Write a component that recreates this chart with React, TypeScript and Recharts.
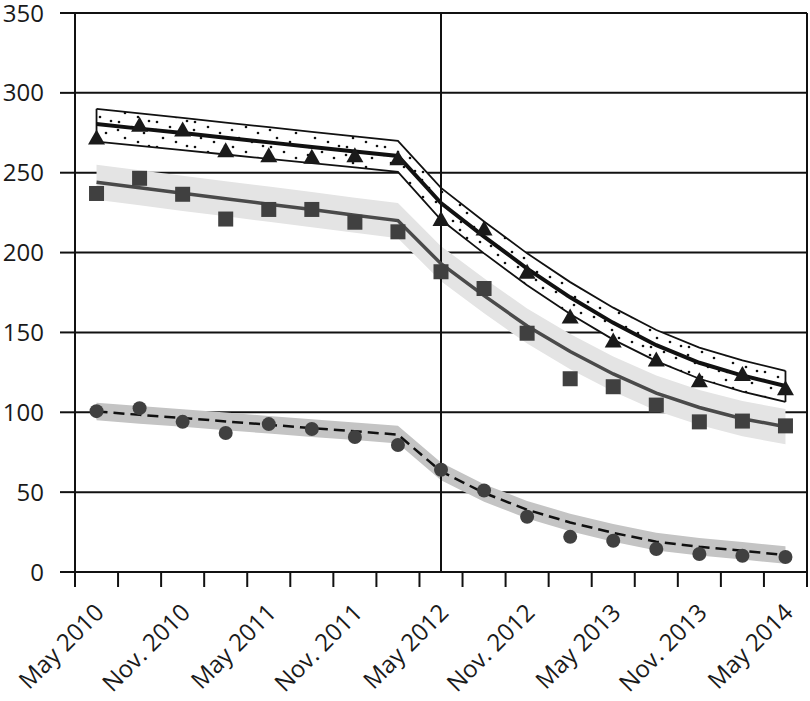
import React from "react";
import {
  ComposedChart,
  Line,
  Area,
  Scatter,
  XAxis,
  YAxis,
  CartesianGrid,
  ReferenceLine,
} from "recharts";

// Quarterly periods (labels shown every 6 months)
const periods = [
  "May 2010", "Aug. 2010", "Nov. 2010", "Feb. 2011", "May 2011", "Aug. 2011",
  "Nov. 2011", "Feb. 2012", "May 2012", "Aug. 2012", "Nov. 2012", "Feb. 2013",
  "May 2013", "Aug. 2013", "Nov. 2013", "Feb. 2014", "May 2014",
];

const yTicks = [0, 50, 100, 150, 200, 250, 300, 350];

// Triangles series
const triPoints = [272, 280, 277, 264, 261, 260, 261, 259, 221, 215, 188, 160, 145, 133, 120, 124, 115];
const triFit = [280.5, 277.6, 274.8, 271.9, 269, 266.1, 263.3, 260.5, 231, 210, 190, 172, 156, 142, 131, 123, 116.5];
const triHi = [290, 287.1, 284.3, 281.4, 278.5, 275.6, 272.8, 270, 240.5, 219.5, 199.5, 181.5, 165.5, 151.5, 140.5, 132.5, 126];
const triLo = [269.5, 266.8, 264.1, 261.4, 258.7, 256, 253.3, 250.5, 220.5, 199.5, 179.5, 161.5, 145.5, 132, 121, 113, 106.5];

// Squares series
const sqPoints = [237, 246.5, 236.5, 221, 227, 227, 219, 213, 188, 177.5, 149.5, 121, 116, 104.5, 94, 94.5, 91.5];
const sqFit = [244, 240.6, 237.1, 233.7, 230.3, 226.9, 223.4, 220, 193, 173, 154, 138, 124, 112, 103, 96, 91];
const sqHalfWidth = [11, 11, 11, 11, 11, 11, 11, 11, 11, 11, 11, 11, 11, 11, 11, 11, 11];

// Circles series
const ciPoints = [100.7, 102.6, 94, 87, 92.6, 89.5, 84.5, 79.5, 64, 51, 34.6, 22, 19.6, 14.4, 11.3, 10.2, 9.4];
const ciFit = [100.5, 98.4, 96.4, 94.3, 92.2, 90.1, 88.1, 86, 63, 49.5, 39, 31, 24.5, 19, 15.8, 13.3, 10.6];
const ciHalfWidth = [5.5, 5.5, 5.5, 5.5, 5.5, 5.5, 5.5, 5.5, 5.5, 5.5, 5.5, 5.5, 5.5, 5.5, 5.5, 5.5, 5.5];

const data = periods.map((p, i) => ({
  period: p,
  x: i + 0.5,
  tri: triPoints[i],
  triFit: triFit[i],
  triBand: [triLo[i], triHi[i]],
  sq: sqPoints[i],
  sqFit: sqFit[i],
  sqBand: [sqFit[i] - sqHalfWidth[i], sqFit[i] + sqHalfWidth[i]],
  ci: ciPoints[i],
  ciFit: ciFit[i],
  ciBand: [ciFit[i] - ciHalfWidth[i], ciFit[i] + ciHalfWidth[i]],
}));

const xTicks = Array.from({ length: periods.length + 1 }, (_, i) => i);
const markerIndex = 8; // May 2012

const FONT = "'Open Sans', 'DejaVu Sans', sans-serif";

const XTick = (props: any) => {
  const { x, y, payload, width } = props;
  const v = payload.value as number;
  if (v % 2 !== 0 || v >= periods.length) return null;
  const band = width / periods.length;
  const ax = x + band / 2 + 9;
  const ay = y + 25;
  return (
    <text
      x={ax}
      y={ay}
      transform={`rotate(-45, ${ax}, ${ay})`}
      textAnchor="end"
      fontFamily={FONT}
      fontSize={24}
      fill="#1a1a1a"
    >
      {periods[v]}
    </text>
  );
};

const Triangle = (props: any) => {
  const { cx, cy } = props;
  if (cx == null || cy == null) return null;
  return (
    <path
      d={`M${cx},${cy - 8} L${cx + 8.5},${cy + 7} L${cx - 8.5},${cy + 7} Z`}
      fill="#1a1a1a"
    />
  );
};

const Square = (props: any) => {
  const { cx, cy } = props;
  if (cx == null || cy == null) return null;
  return <rect x={cx - 7.5} y={cy - 7.5} width={15} height={15} fill="#404040" />;
};

const Dot = (props: any) => {
  const { cx, cy } = props;
  if (cx == null || cy == null) return null;
  return <circle cx={cx} cy={cy} r={7} fill="#404040" />;
};

export default function App() {
  const last = periods.length - 1;
  return (
    <div style={{ position: "absolute", left: 0, top: 0 }}>
      <ComposedChart
        width={810}
        height={701}
        data={data}
        margin={{ top: 13, right: 3, bottom: 0, left: 0 }}
      >
        <defs>
          <pattern id="stipple" width="38" height="25" patternUnits="userSpaceOnUse">
            <rect width="38" height="25" fill="#ffffff" />
            <circle cx="4" cy="5" r="1.3" fill="#111" />
            <circle cx="18" cy="2" r="1.3" fill="#111" />
            <circle cx="30" cy="8" r="1.3" fill="#111" />
            <circle cx="11" cy="13" r="1.3" fill="#111" />
            <circle cx="24" cy="17" r="1.3" fill="#111" />
            <circle cx="35" cy="21" r="1.3" fill="#111" />
            <circle cx="5" cy="22" r="1.3" fill="#111" />
          </pattern>
        </defs>
        <CartesianGrid vertical={false} stroke="#111" strokeWidth={2} />
        <XAxis
          type="number"
          dataKey="x"
          domain={[0, periods.length]}
          ticks={xTicks}
          interval={0}
          height={129}
          tickSize={15}
          axisLine={{ stroke: "#111", strokeWidth: 2 }}
          tickLine={{ stroke: "#111", strokeWidth: 2 }}
          tick={<XTick />}
        />
        <YAxis
          type="number"
          domain={[0, 350]}
          ticks={yTicks}
          width={75}
          tickSize={15}
          tickMargin={16}
          axisLine={{ stroke: "#111", strokeWidth: 2 }}
          tickLine={{ stroke: "#111", strokeWidth: 2 }}
          tick={{ fontFamily: FONT, fontSize: 24, fill: "#1a1a1a" }}
        />
        <Area
          dataKey="sqBand"
          stroke="none"
          fill="#e4e4e4"
          fillOpacity={1}
          isAnimationActive={false}
          activeDot={false}
        />
        <Area
          dataKey="ciBand"
          stroke="none"
          fill="#c4c4c4"
          fillOpacity={1}
          isAnimationActive={false}
          activeDot={false}
        />
        <Area
          dataKey="triBand"
          stroke="#111"
          strokeWidth={1.8}
          fill="url(#stipple)"
          fillOpacity={1}
          isAnimationActive={false}
          activeDot={false}
        />
        <ReferenceLine
          segment={[
            { x: data[0].x, y: triLo[0] },
            { x: data[0].x, y: triHi[0] },
          ]}
          stroke="#111"
          strokeWidth={1.8}
        />
        <ReferenceLine
          segment={[
            { x: data[last].x, y: triLo[last] },
            { x: data[last].x, y: triHi[last] },
          ]}
          stroke="#111"
          strokeWidth={1.8}
        />
        <ReferenceLine x={data[markerIndex].x} stroke="#111" strokeWidth={2} />
        <ReferenceLine x={periods.length} stroke="#111" strokeWidth={2} />
        <Line
          dataKey="sqFit"
          stroke="#4a4a4a"
          strokeWidth={3.5}
          dot={false}
          activeDot={false}
          type="linear"
          isAnimationActive={false}
        />
        <Line
          dataKey="ciFit"
          stroke="#111"
          strokeWidth={2.5}
          strokeDasharray="11 6"
          dot={false}
          activeDot={false}
          type="linear"
          isAnimationActive={false}
        />
        <Line
          dataKey="triFit"
          stroke="#111"
          strokeWidth={4}
          dot={false}
          activeDot={false}
          type="linear"
          isAnimationActive={false}
        />
        <Scatter dataKey="sq" shape={<Square />} isAnimationActive={false} />
        <Scatter dataKey="ci" shape={<Dot />} isAnimationActive={false} />
        <Scatter dataKey="tri" shape={<Triangle />} isAnimationActive={false} />
      </ComposedChart>
    </div>
  );
}
